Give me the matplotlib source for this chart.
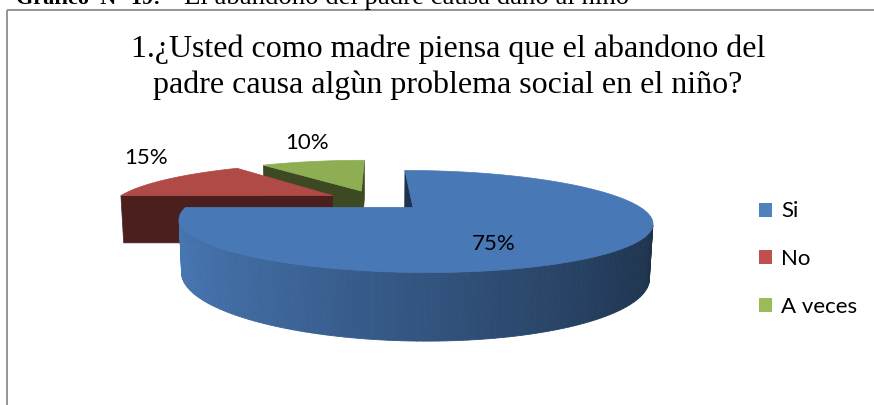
import numpy as np
import matplotlib
matplotlib.use("Agg")
import matplotlib.pyplot as plt
from matplotlib.patches import Rectangle, Patch
from matplotlib.colors import to_rgb


# Datos del grafico
categorias = ["Si", "No", "A veces"]
porcentajes = [75, 15, 10]
colores_cara = ["#4878B5", "#B04A46", "#8EAE53"]
colores_leyenda = ["#4F81BD", "#C0504D", "#9BBB59"]

titulo = ("1.¿Usted como madre piensa que el abandono del\n"
          "padre causa algùn problema social en el niño?")
pie_grafico_negrita = "Gráfico  N° 19:"
pie_grafico_resto = "El abandono del padre causa daño al niño"


# Camara para el pastel 3D (perspectiva sencilla)
CX, CY = 376, 200
FOCAL_X = 805
FOCAL_Y = 840
SIN_E = 0.19
COS_E = np.sqrt(1 - SIN_E ** 2)
DIST = 3.70
ALTO = 0.22
EXPLOTA = 0.23
CAMARA = np.array([0.0, -DIST * COS_E, DIST * SIN_E])

# posicion de las etiquetas (radio relativo y altura)
label_r = [0.44, 1.15, 1.15]
label_z = [-0.08, 0.10, 0.09]


def proyectar(X, Y, Z):
    prof = DIST + Y * COS_E - Z * SIN_E
    sx = CX + FOCAL_X * X / prof
    sy = CY - FOCAL_Y * (Y * SIN_E + Z * COS_E) / prof
    return sx, sy


def oscurecer(color, f):
    r, g, b = to_rgb(color)
    return (r * f, g * f, b * f)


def visible(normal, punto):
    return np.dot(normal, CAMARA - punto) > 0


def dibujar_porcion(ax, a0, a1, color):
    mid = np.radians((a0 + a1) / 2)
    ox, oy = EXPLOTA * np.cos(mid), EXPLOTA * np.sin(mid)
    t = np.radians(np.linspace(a0, a1, 200))

    # caras radiales
    for ang, lado in ((a0, 1), (a1, -1)):
        a = np.radians(ang)
        normal = np.array([lado * np.sin(a), -lado * np.cos(a), 0.0])
        centro = np.array([ox + 0.5 * np.cos(a), oy + 0.5 * np.sin(a), -ALTO / 2])
        if visible(normal, centro):
            X = [ox, ox + np.cos(a), ox + np.cos(a), ox]
            Y = [oy, oy + np.sin(a), oy + np.sin(a), oy]
            Z = [0, 0, -ALTO, -ALTO]
            sx, sy = proyectar(np.array(X), np.array(Y), np.array(Z))
            c = oscurecer(color, 0.42)
            ax.fill(sx, sy, color=c, lw=0.5, ec=c)

    # pared exterior
    for i in range(len(t) - 1):
        tm = (t[i] + t[i + 1]) / 2
        normal = np.array([np.cos(tm), np.sin(tm), 0.0])
        punto = np.array([ox + np.cos(tm), oy + np.sin(tm), -ALTO / 2])
        if not visible(normal, punto):
            continue
        X = ox + np.cos([t[i], t[i + 1], t[i + 1], t[i]])
        Y = oy + np.sin([t[i], t[i + 1], t[i + 1], t[i]])
        Z = np.array([0, 0, -ALTO, -ALTO])
        sx, sy = proyectar(X, Y, Z)
        f = 0.4 + 0.6 * (1 - np.cos(tm)) / 2
        c = oscurecer(color, f)
        ax.fill(sx, sy, color=c, lw=0.6, ec=c)

    # cara superior
    X = np.concatenate([[ox], ox + np.cos(t)])
    Y = np.concatenate([[oy], oy + np.sin(t)])
    sx, sy = proyectar(X, Y, np.zeros_like(X))
    ax.fill(sx, sy, color=color, lw=0.5, ec=color)
    return ox, oy


fig = plt.figure(figsize=(8.74, 4.05), dpi=100)
ax = fig.add_axes([0, 0, 1, 1])
ax.set_xlim(0, 874)
ax.set_ylim(405, 0)
ax.axis("off")

# marco del grafico
ax.add_patch(Rectangle((7, 10), 900, 420, fill=False, ec="#8C8C8C", lw=1.3))

# pie de figura cortado arriba
ax.text(16, 4, pie_grafico_negrita, family="Liberation Serif",
        fontsize=16, fontweight="bold", va="baseline", ha="left")
ax.text(184, 4, pie_grafico_resto, family="Liberation Serif",
        fontsize=19.3, va="baseline", ha="left")

ax.text(448, 67, titulo, family="Liberation Serif", fontsize=23,
        ha="center", va="center", multialignment="center", linespacing=1.29)

# angulos de cada porcion (inicio a las 12, sentido horario)
total = sum(porcentajes)
angulos = []
inicio = 90.0
for v in porcentajes:
    fin = inicio - v / total * 360
    angulos.append((fin, inicio))
    inicio = fin


# orden de dibujo: de atras hacia adelante
def prof_centro(i):
    a0, a1 = angulos[i]
    return np.sin(np.radians((a0 + a1) / 2))


orden = sorted(range(len(porcentajes)), key=prof_centro, reverse=True)
for i in orden:
    dibujar_porcion(ax, angulos[i][0], angulos[i][1], colores_cara[i])

# etiquetas de porcentaje
for i, v in enumerate(porcentajes):
    a0, a1 = angulos[i]
    mid = np.radians((a0 + a1) / 2)
    r = EXPLOTA + label_r[i]
    sx, sy = proyectar(r * np.cos(mid), r * np.sin(mid), label_z[i])
    ax.text(sx, sy, f"{v}%", family="Lato", fontsize=16,
            ha="center", va="center", color="black")

handles = [Patch(facecolor=c, edgecolor="none") for c in colores_leyenda]
ax.legend(handles, categorias, loc="center left",
          bbox_to_anchor=(759 / 874, 1 - 259 / 405), frameon=False,
          prop={"family": "Lato", "size": 16}, handlelength=0.6,
          handleheight=0.6, handletextpad=0.4, labelspacing=1.24,
          borderpad=0, borderaxespad=0)

fig.savefig("out.png", dpi=100)
